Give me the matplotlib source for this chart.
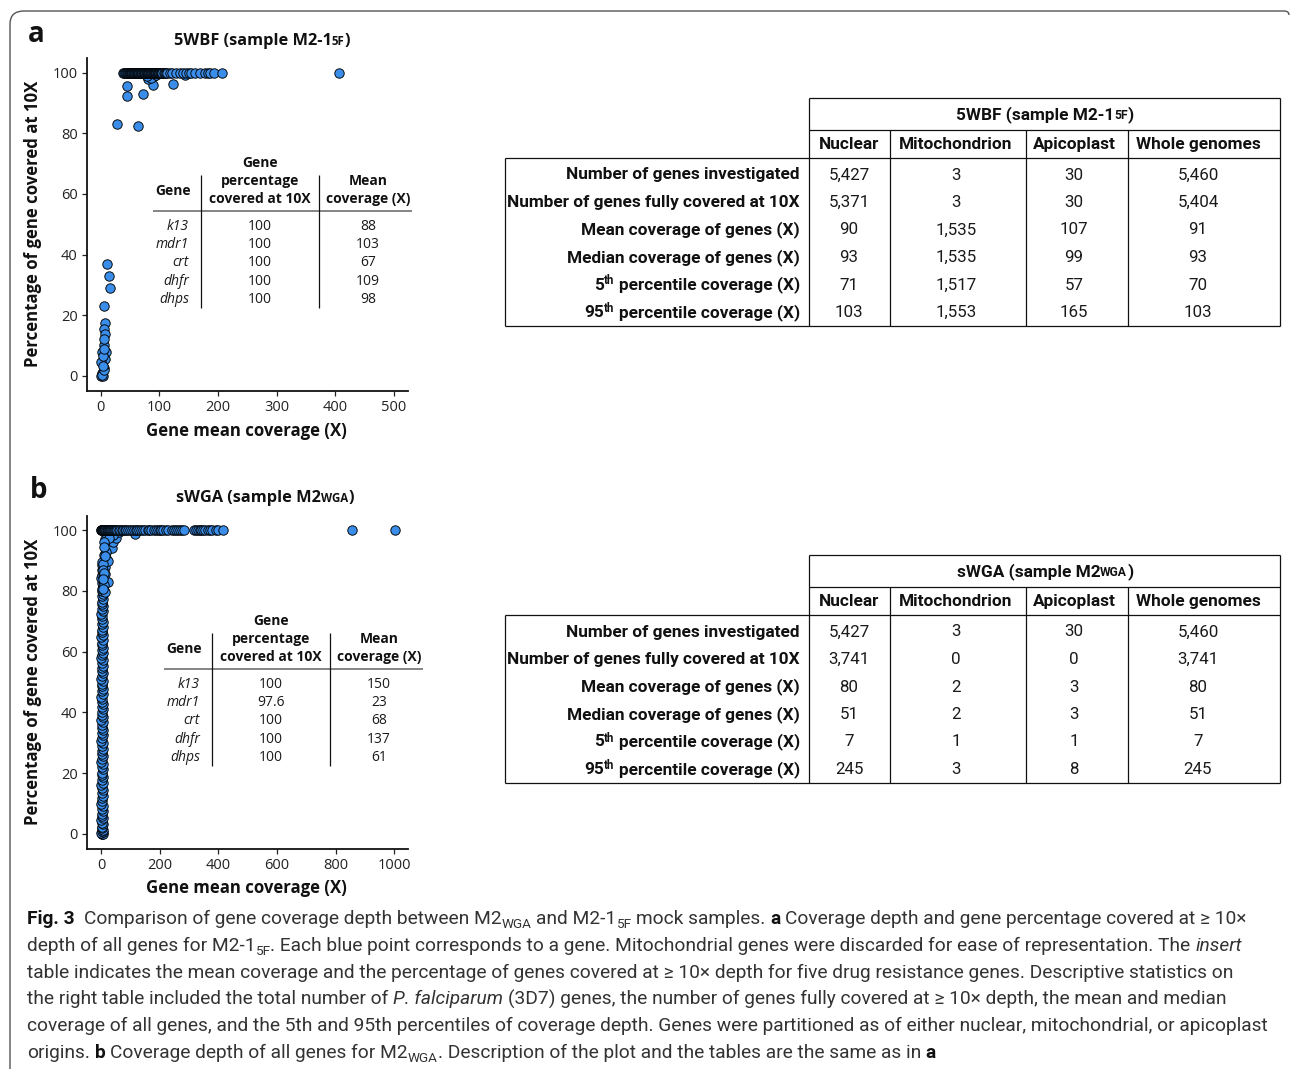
import matplotlib
matplotlib.use("Agg")
import matplotlib.pyplot as plt
from matplotlib.transforms import Affine2D
from matplotlib.lines import Line2D
from matplotlib.path import Path
from matplotlib.patches import PathPatch
from matplotlib import font_manager as fm

# ---------------------------------------------------------------- data
# Panel a: 5WBF (sample M2-1 5F)
full_cov_a = [38, 40, 42, 43, 45, 46, 47, 48, 49, 50, 51, 52, 53, 54, 55, 56, 57, 58,
              59, 60, 61, 62, 63, 64, 65, 66, 67, 68, 69, 70, 71, 72, 73, 74, 75, 76,
              77, 78, 79, 80, 81, 82, 83, 84, 85, 86, 87, 88, 89, 90, 91, 92, 93, 94,
              95, 96, 97, 98, 99, 100, 101, 102, 103, 104, 105, 107, 109, 111, 113,
              118, 122, 129, 135, 141, 146, 150, 154, 160, 169, 178, 183, 187, 193,
              207, 406]
part_cov_a = [45, 44, 72, 89, 124, 81, 90, 144, 85, 95, 78, 27, 63,
              10, 14, 15, 5, 7, 5, 7, 6, 9, 2, 7, 1, 5, 2, 0, 4, 2, 6, 3, 4, 5, 6]
part_pct_a = [95.6, 92.4, 92.9, 96.0, 96.3, 97.8, 98.8, 99.1, 98.3, 99.2, 99.0, 83.1, 82.4,
              36.8, 32.8, 28.8, 22.9, 17.3, 15.5, 13.7, 10.2, 7.9, 7.7, 5.6, 4.7, 2.5,
              0.9, 0.0, 0.0, 0.3, 1.8, 3.2, 6.4, 9.0, 12.2]

# Panel b: sWGA (sample M2 WGA)
full_cov_b = [0, 1, 2, 3, 4, 5, 6, 7, 8, 9, 10, 12, 14, 17, 20, 22, 25, 27, 30, 32,
              35, 37, 40, 44, 48, 52, 55, 61, 66, 70, 75, 80, 86, 93, 99, 105, 111,
              118, 124, 130, 137, 144, 151, 159, 165, 172, 179, 186, 193, 200, 205,
              210, 220, 230, 241, 248, 255, 262, 270, 277, 284, 317, 324, 330, 336,
              341, 348, 355, 364, 372, 380, 392, 399, 417, 857, 1001]
part_cov_b = [12, 15, 20, 25, 30, 34, 36, 40, 45, 51, 19, 23, 15, 18, 13, 115, 28, 60,
              10, 22, 16, 40, 26, 9, 11, 8, 14, 7, 10, 12, 9, 6, 8]
part_pct_b = [97.0, 95.0, 93.5, 96.2, 94.3, 97.0, 94.0, 96.0, 98.0, 97.4, 98.2, 83.0,
              88.0, 91.0, 85.5, 98.8, 99.0, 99.5, 92.0, 90.0, 93.0, 98.5, 97.5, 96.0,
              94.5, 89.0, 91.5, 87.0, 82.0, 79.5, 86.0, 84.0, 80.5]
col_cov_b = [2, 4, 6, 1, 5, 3, 6, 2, 4, 5, 3, 1, 6, 4, 2, 5, 3, 6, 1, 4,
             2, 5, 3, 6, 4, 1, 5, 2, 6, 3, 4, 5, 2, 6, 1, 3, 5, 4, 2, 6,
             3, 5, 1, 4, 6, 2, 5, 3, 4, 6, 1, 5, 2, 4, 6, 3, 5, 2, 4, 1,
             6, 3, 5, 2, 4, 6, 1, 3, 5, 4, 2, 6, 3, 5, 1, 4, 6, 2, 5, 3,
             4, 6, 1, 5, 2, 4, 6, 3, 5, 2, 4, 1, 6, 3, 5, 2, 4, 6, 3, 5,
             2, 4, 6, 3, 5, 1, 4, 6, 2, 5, 3, 4]
col_pct_b = [0.0, 0.0, 0.0, 0.2, 0.5, 0.9, 1.3, 1.8, 2.4, 3.1, 3.7, 4.5, 5.2, 6.0, 6.6,
             7.5, 8.2, 9.1, 9.9, 10.7, 11.8, 12.5, 13.3, 14.3, 15.0, 16.1, 16.8, 17.6,
             18.6, 19.4, 20.2, 21.3, 22.0, 22.9, 23.6, 24.7, 25.5, 26.2, 27.3, 28.0,
             28.8, 29.9, 30.6, 31.5, 32.4, 33.1, 34.2, 35.0, 35.8, 36.7, 37.4, 38.5,
             39.2, 40.1, 41.0, 41.8, 42.7, 43.4, 44.4, 45.2, 46.0, 47.0, 47.7, 48.6,
             49.4, 50.4, 51.1, 52.0, 52.9, 53.7, 54.6, 55.3, 56.4, 57.1, 58.0, 58.8,
             59.7, 60.6, 61.3, 62.3, 63.0, 63.9, 64.8, 65.5, 66.5, 67.3, 68.1, 69.0,
             69.8, 70.7, 71.6, 72.3, 73.3, 74.0, 74.9, 75.8, 76.5, 77.4, 78.3, 79.1,
             80.0, 80.8, 81.7, 82.5, 83.4, 84.2, 85.1, 86.0, 86.8, 87.7, 88.5, 89.4]

# Insert tables (drug resistance genes)
ins_genes = ["k13", "mdr1", "crt", "dhfr", "dhps"]
ins_pct_a = ["100", "100", "100", "100", "100"]
ins_cov_a = ["88", "103", "67", "109", "98"]
ins_pct_b = ["100", "97.6", "100", "100", "100"]
ins_cov_b = ["150", "23", "68", "137", "61"]

# Summary tables
compartments = ["Nuclear", "Mitochondrion", "Apicoplast", "Whole genomes"]
stat_rows = ["Number of genes investigated", "Number of genes fully covered at 10X",
             "Mean coverage of genes (X)", "Median coverage of genes (X)",
             "5|th| percentile coverage (X)", "95|th| percentile coverage (X)"]
stats_a = [["5,427", "3", "30", "5,460"],
           ["5,371", "3", "30", "5,404"],
           ["90", "1,535", "107", "91"],
           ["93", "1,535", "99", "93"],
           ["71", "1,517", "57", "70"],
           ["103", "1,553", "165", "103"]]
stats_b = [["5,427", "3", "30", "5,460"],
           ["3,741", "0", "0", "3,741"],
           ["80", "2", "3", "80"],
           ["51", "2", "3", "51"],
           ["7", "1", "1", "7"],
           ["245", "3", "8", "245"]]


# ---------------------------------------------------------------- fonts
def pick(*names):
    for n in names:
        try:
            fm.findfont(fm.FontProperties(family=n), fallback_to_default=False)
            return n
        except Exception:
            pass
    return "DejaVu Sans"


MAIN = pick("Open Sans", "Lato", "Noto Sans")
NARROW = pick("Liberation Sans Narrow", "Roboto", "Liberation Sans")

BLUE = "#3A8EEA"
W, H = 1290, 1069
fig = plt.figure(figsize=(W / 100, H / 100), dpi=100)
PX = Affine2D().scale(1 / W, -1 / H).translate(0, 1) + fig.transFigure
REND = fig.canvas.get_renderer()


def fprops(p):
    return dict(family=p.get("family", MAIN), size=p.get("size", 10),
                weight=p.get("weight", "normal"), style=p.get("style", "normal"),
                color=p.get("color", "#1a1a1a"))


def adv(s, p):
    if not s:
        return 0.0
    kw = fprops(p)
    t1 = fig.text(0, 0, "I" + s + "I", **kw)
    t2 = fig.text(0, 0, "II", **kw)
    w = t1.get_window_extent(REND).width - t2.get_window_extent(REND).width
    t1.remove()
    t2.remove()
    return w


def runs(x, y, parts, ha="left"):
    """Draw a line of styled text pieces; y is the baseline in pixels from the top."""
    widths = [adv(s, p) for s, p in parts]
    total = sum(widths)
    if ha == "center":
        x -= total / 2
    elif ha == "right":
        x -= total
    for (s, p), w in zip(parts, widths):
        core = s.strip(" ")
        lead = len(s) - len(s.lstrip(" "))
        xo = x + adv(" " * lead, p)
        if core:
            fig.text(xo, y - p.get("dy", 0), core, transform=PX, ha="left",
                     va="baseline", **fprops(p))
        x += w


def txt(x, y, s, **kw):
    p = dict(family=MAIN, size=10, color="#1a1a1a")
    p.update(kw)
    fig.text(x, y, s, transform=PX, **p)


def hline(y, x0, x1, lw=0.8, color="#111111"):
    fig.add_artist(Line2D([x0, x1], [y, y], transform=PX, lw=lw, color=color,
                          solid_capstyle="butt"))


def vline(x, y0, y1, lw=0.8, color="#111111"):
    fig.add_artist(Line2D([x, x], [y0, y1], transform=PX, lw=lw, color=color,
                          solid_capstyle="butt"))


# ---------------------------------------------------------------- outer frame
frame = Path([(10, 1069), (10, 24), (10, 11), (24, 11), (1284, 11), (1289, 11), (1289, 15)],
             [Path.MOVETO, Path.LINETO, Path.CURVE3, Path.CURVE3, Path.LINETO,
              Path.CURVE3, Path.CURVE3])
fig.add_artist(PathPatch(frame, transform=PX, fill=False, lw=1.0, edgecolor="#555555"))


# ---------------------------------------------------------------- scatter panels
def make_axes(left, top, right, bottom):
    ax = fig.add_axes([left / W, 1 - bottom / H, (right - left) / W, (bottom - top) / H])
    for side in ("top", "right"):
        ax.spines[side].set_visible(False)
    for side in ("left", "bottom"):
        ax.spines[side].set_linewidth(1.3)
        ax.spines[side].set_color("#111111")
    ax.tick_params(direction="out", length=3.5, width=0.9, color="#222222",
                   labelsize=10.5, labelcolor="#222222", pad=3)
    ax.patch.set_alpha(0)
    return ax


sc_kw = dict(s=46, c=BLUE, edgecolors="black", linewidths=0.65, zorder=3, clip_on=False)

ax_a = make_axes(86.7, 58, 408, 391)
ax_a.set_xlim(-24, 524)
ax_a.set_ylim(-5, 104.8)
ax_a.scatter(part_cov_a, part_pct_a, **sc_kw)
ax_a.scatter(full_cov_a, [100] * len(full_cov_a), **sc_kw)
ax_a.set_xticks([0, 100, 200, 300, 400, 500])
ax_a.set_yticks([0, 20, 40, 60, 80, 100])

ax_b = make_axes(86.7, 515.7, 408.3, 849)
ax_b.set_xlim(-49, 1048)
ax_b.set_ylim(-5, 104.8)
ax_b.scatter(col_cov_b, col_pct_b, **sc_kw)
ax_b.scatter(part_cov_b, part_pct_b, **sc_kw)
ax_b.scatter(full_cov_b, [100] * len(full_cov_b), **sc_kw)
ax_b.set_xticks([0, 200, 400, 600, 800, 1000])
ax_b.set_yticks([0, 20, 40, 60, 80, 100])

for ax in (ax_a, ax_b):
    for lab in ax.get_xticklabels() + ax.get_yticklabels():
        lab.set_family(MAIN)

# axis labels
for yc in (224, 682):
    txt(33, yc, "Percentage of gene covered at 10X", size=12.1, weight="bold",
        rotation=90, ha="center", va="center", color="#111111")
for yc in (431, 888):
    txt(246, yc, "Gene mean coverage (X)", size=12.1, weight="bold",
        ha="center", va="center", color="#111111")

# panel letters and titles
txt(28, 42, "a", size=20, weight="bold", va="baseline", color="#111111")
txt(30, 498, "b", size=20, weight="bold", va="baseline", color="#111111")
BT = dict(weight="bold", size=11.8, color="#111111")
BS = dict(weight="bold", size=8.3, color="#111111")
runs(262, 45, [("5WBF (sample M2-1", BT), ("5F", BS), (")", BT)], ha="center")
runs(265, 502, [("sWGA (sample M2", BT), ("WGA", BS), (")", BT)], ha="center")


# ---------------------------------------------------------------- insert tables
def insert_table(ox, oy, pcts, covs):
    # ox, oy: offsets relative to the panel-a layout
    hline(211 + oy, 153 + ox, 412 + ox, lw=1.2, color="#6f6f6f")
    vline(201 + ox, 175 + oy, 308 + oy, lw=0.9)
    vline(319 + ox, 175 + oy, 308 + oy, lw=0.9)
    hb = dict(size=10, weight="bold", ha="center", va="center", color="#111111")
    txt(173 + ox, 191 + oy, "Gene", **hb)
    for s, yy in zip(["Gene", "percentage", "covered at 10X"], [163, 181, 199]):
        txt(260 + ox, yy + oy, s, **hb)
    for s, yy in zip(["Mean", "coverage (X)"], [181, 199]):
        txt(368 + ox, yy + oy, s, **hb)
    for i, yy in enumerate([226, 244.3, 263, 281.3, 299.7]):
        txt(189 + ox, yy + oy, ins_genes[i], size=10, style="italic",
            ha="right", va="center")
        txt(260 + ox, yy + oy, pcts[i], size=10, ha="center", va="center")
        txt(368 + ox, yy + oy, covs[i], size=10, ha="center", va="center")


insert_table(0, 0, ins_pct_a, ins_cov_a)
insert_table(11, 458, ins_pct_b, ins_cov_b)


# ---------------------------------------------------------------- summary tables
COLX = [809, 890, 1026, 1128, 1280]
COLC = [849, 956, 1074, 1198]


def summary_table(oy, title_parts, values):
    lw = 0.9
    hline(98 + oy, 809, 1280, lw)
    hline(130 + oy, 809, 1280, lw)
    hline(158 + oy, 505, 1280, lw)
    hline(326 + oy, 505, 1280, lw)
    vline(505, 158 + oy, 326 + oy, lw)
    vline(809, 98 + oy, 326 + oy, lw)
    vline(1280, 98 + oy, 326 + oy, lw)
    for xx in COLX[1:4]:
        vline(xx, 130 + oy, 326 + oy, lw)
    runs(1045, 119 + oy, title_parts, ha="center")
    hb = dict(family=NARROW, weight="bold", size=12.4, color="#111111")
    for name, xc in zip(compartments, COLC):
        runs(xc, 149 + oy, [(name, hb)], ha="center")
    rows_y = [174, 201.5, 229, 256.5, 284, 311.5]
    sup = dict(family=NARROW, weight="bold", size=8.3, dy=5, color="#111111")
    for label, yy, vals in zip(stat_rows, rows_y, values):
        if "|" in label:
            a, b, c = label.split("|")
            parts = [(a, hb), (b, sup), (c, hb)]
        else:
            parts = [(label, hb)]
        runs(800, yy + 5.5 + oy, parts, ha="right")
        for v, xc in zip(vals, COLC):
            runs(xc, yy + 5.5 + oy, [(v, dict(family=NARROW, size=12.2))], ha="center")


TT = dict(family=NARROW, weight="bold", size=12.4, color="#111111")
TS = dict(family=NARROW, weight="bold", size=8.7, color="#111111")
summary_table(0, [("5WBF (sample M2-1", TT), ("5F", TS), (")", TT)], stats_a)
summary_table(457, [("sWGA (sample M2", TT), ("WGA", TS), (")", TT)], stats_b)

# ---------------------------------------------------------------- caption
CS = 13.8
R = dict(family=NARROW, size=CS, color="#333333")
B = dict(family=NARROW, size=CS, weight="bold", color="#111111")
I = dict(family=NARROW, size=CS, style="italic", color="#333333")
S = dict(family=NARROW, size=9.7, dy=-4, color="#333333")
caption = [
    [("Fig. 3", B), ("  Comparison of gene coverage depth between M2", R), ("WGA", S),
     (" and M2-1", R), ("5F", S), (" mock samples. ", R), ("a", B),
     (" Coverage depth and gene percentage covered at \u2265 10\u00d7", R)],
    [("depth of all genes for M2-1", R), ("5F", S),
     (". Each blue point corresponds to a gene. Mitochondrial genes were discarded for ease of representation. The ", R),
     ("insert", I)],
    [("table indicates the mean coverage and the percentage of genes covered at \u2265 10\u00d7 depth for five drug resistance genes. Descriptive statistics on", R)],
    [("the right table included the total number of ", R), ("P. falciparum", I),
     (" (3D7) genes, the number of genes fully covered at \u2265 10\u00d7 depth, the mean and median", R)],
    [("coverage of all genes, and the 5th and 95th percentiles of coverage depth. Genes were partitioned as of either nuclear, mitochondrial, or apicoplast", R)],
    [("origins. ", R), ("b", B), (" Coverage depth of all genes for M2", R), ("WGA", S),
     (". Description of the plot and the tables are the same as in ", R), ("a", B)],
]
for line, yb in zip(caption, [924, 951, 978, 1004.5, 1031, 1058]):
    runs(27, yb, line)

fig.savefig("out.png", dpi=100)
